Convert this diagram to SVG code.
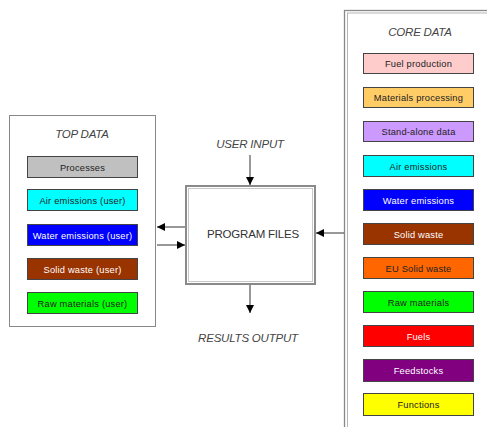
<svg xmlns="http://www.w3.org/2000/svg" width="487" height="427" viewBox="0 0 487 427">
<defs>
<marker id="ah" markerWidth="9" markerHeight="9" refX="8" refY="4" orient="auto" markerUnits="userSpaceOnUse">
<path d="M0,0 L8,4 L0,8 z" fill="#000"/>
</marker>
<style>
.title{font-family:"Liberation Sans",Arial,sans-serif;font-style:italic;font-size:11.5px;fill:#444;text-anchor:middle;letter-spacing:-0.2px}
.lbl{font-family:"Liberation Sans",Arial,sans-serif;font-size:9.3px;text-anchor:middle;letter-spacing:0.2px}
.item{stroke:#444;stroke-width:1}
.conn{stroke:#333;stroke-width:1;fill:none;marker-end:url(#ah)}
</style>
</defs>
<rect width="487" height="427" fill="#fff"/>

<g id="top-data">
<rect x="9.5" y="115.5" width="146" height="211" fill="#fff" stroke="#888" stroke-width="1"/>
<text class="title" x="82" y="138">TOP DATA</text>
</g>
<g id="processes"><rect class="item" x="27.5" y="156.5" width="110" height="21" fill="#C0C0C0"/><text class="lbl" x="82.5" y="170.5" fill="#222">Processes</text></g>
<g id="air-emissions-user"><rect class="item" x="27.5" y="189.5" width="110" height="21" fill="#00FFFF"/><text class="lbl" x="82.5" y="203.5" fill="#222">Air emissions (user)</text></g>
<g id="water-emissions-user"><rect class="item" x="27.5" y="224.5" width="110" height="21" fill="#0000FF"/><text class="lbl" x="82.5" y="238.5" fill="#fff">Water emissions (user)</text></g>
<g id="solid-waste-user"><rect class="item" x="27.5" y="258.5" width="110" height="21" fill="#993300"/><text class="lbl" x="82.5" y="272.5" fill="#fff">Solid waste (user)</text></g>
<g id="raw-materials-user"><rect class="item" x="27.5" y="292.5" width="110" height="21" fill="#00FF00"/><text class="lbl" x="82.5" y="306.5" fill="#222">Raw materials (user)</text></g>

<g id="program-files">
<rect x="186" y="186" width="129" height="98" fill="#fff" stroke="#8a8a8a" stroke-width="2"/>
<rect x="188.5" y="188.5" width="124" height="93" fill="none" stroke="#c8c8c8" stroke-width="1"/>
<text x="253" y="238" font-family="Liberation Sans, Arial, sans-serif" font-size="11.5" fill="#333" text-anchor="middle" letter-spacing="-0.2">PROGRAM FILES</text>
</g>
<g id="user-input"><text class="title" x="250" y="148" font-size="12">USER INPUT</text></g>
<g id="results-output"><text class="title" x="248" y="342" font-size="12">RESULTS OUTPUT</text></g>

<g id="core-data">
<rect x="344.5" y="10.5" width="160" height="440" fill="#fff" stroke="#888" stroke-width="1.3"/>
<rect x="347.5" y="13" width="160" height="440" fill="none" stroke="#b5b5b5" stroke-width="1"/>
<text class="title" x="420" y="36">CORE DATA</text>
</g>
<g id="fuel-production"><rect class="item" x="363.5" y="53.5" width="110" height="20" fill="#FFCCCC"/><text class="lbl" x="418.5" y="67" fill="#222">Fuel production</text></g>
<g id="materials-processing"><rect class="item" x="363.5" y="87.5" width="110" height="20" fill="#FFCC66"/><text class="lbl" x="418.5" y="101" fill="#222">Materials processing</text></g>
<g id="stand-alone-data"><rect class="item" x="363.5" y="121.5" width="110" height="20" fill="#CC99FF"/><text class="lbl" x="418.5" y="135" fill="#222">Stand-alone data</text></g>
<g id="air-emissions"><rect class="item" x="363.5" y="155.5" width="110" height="21" fill="#00FFFF"/><text class="lbl" x="418.5" y="169.5" fill="#222">Air emissions</text></g>
<g id="water-emissions"><rect class="item" x="363.5" y="189.5" width="110" height="21" fill="#0000FF"/><text class="lbl" x="418.5" y="203.5" fill="#fff">Water emissions</text></g>
<g id="solid-waste"><rect class="item" x="363.5" y="223.5" width="110" height="21" fill="#993300"/><text class="lbl" x="418.5" y="237.5" fill="#fff">Solid waste</text></g>
<g id="eu-solid-waste"><rect class="item" x="363.5" y="257.5" width="110" height="21" fill="#FF6600"/><text class="lbl" x="418.5" y="271.5" fill="#222">EU Solid waste</text></g>
<g id="raw-materials"><rect class="item" x="363.5" y="291.5" width="110" height="21" fill="#00FF00"/><text class="lbl" x="418.5" y="305.5" fill="#222">Raw materials</text></g>
<g id="fuels"><rect class="item" x="363.5" y="325.5" width="110" height="21" fill="#FF0000"/><text class="lbl" x="418.5" y="339.5" fill="#fff">Fuels</text></g>
<g id="feedstocks"><rect class="item" x="363.5" y="359.5" width="110" height="22" fill="#800080"/><text class="lbl" x="418.5" y="374" fill="#fff">Feedstocks</text></g>
<g id="functions"><rect class="item" x="363.5" y="393.5" width="110" height="22" fill="#FFFF00"/><text class="lbl" x="418.5" y="408" fill="#222">Functions</text></g>

<g id="connectors">
<line class="conn" x1="250" y1="155" x2="250" y2="185"/>
<line class="conn" x1="250" y1="285" x2="250" y2="313"/>
<line class="conn" x1="185" y1="227" x2="157" y2="227"/>
<line class="conn" x1="157" y1="245" x2="185" y2="245"/>
<line class="conn" x1="344" y1="233" x2="316" y2="233"/>
</g>
</svg>
